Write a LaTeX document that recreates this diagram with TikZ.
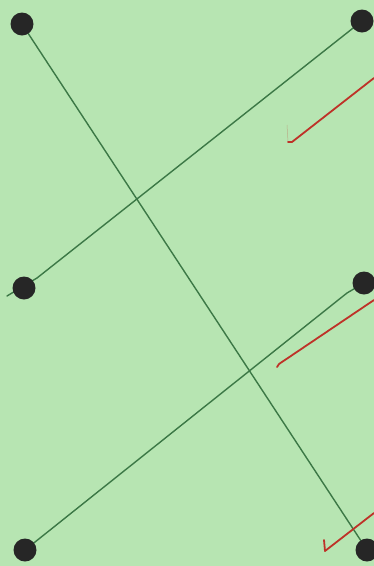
\documentclass[tikz,border=0pt]{standalone}
\definecolor{paper}{RGB}{183,229,178}
\definecolor{pen}{RGB}{60,120,70}
\definecolor{redpen}{RGB}{190,50,40}
\begin{document}
\begin{tikzpicture}[x=1pt,y=-1pt,
  dot/.style={circle,fill=black!85,inner sep=0pt,minimum size=23pt},
  gline/.style={draw=pen,line width=1.4pt,line cap=round,line join=round},
  rline/.style={draw=redpen,line width=1.8pt,line cap=round,line join=round}]
\fill[paper] (0,0) rectangle (374,566);
\useasboundingbox (0,0) rectangle (374,566);
\coordinate (tl) at (22,24);
\coordinate (tr) at (362,21);
\coordinate (ml) at (24,288);
\coordinate (mr) at (364,283);
\coordinate (bl) at (25,550);
\coordinate (br) at (367,550);
\coordinate (t1) at (7,296);
\coordinate (h1) at (37,278);
\coordinate (h2) at (347,293);
\draw[gline] (tl) -- (br);
\draw[gline] (tr) -- (h1) -- (t1);
\draw[gline] (mr) -- (h2) -- (bl);
\node[dot] (ntl) at (tl) {};
\node[dot] (ntr) at (tr) {};
\node[dot] (nml) at (ml) {};
\node[dot] (nmr) at (mr) {};
\node[dot] (nbl) at (bl) {};
\node[dot] (nbr) at (br) {};
\coordinate (r1a) at (287,125);
\coordinate (r1b) at (288,142);
\coordinate (r1c) at (374,78);
\coordinate (r2b) at (277,367);
\coordinate (r2c) at (374,300);
\coordinate (r3a) at (324,540);
\coordinate (r3b) at (325,551);
\coordinate (r3c) at (374,513);
\draw[line width=0.5pt,draw=redpen!30!paper] (r1a) -- (r1b);
\draw[rline] (r1b) -- (292,142) -- (r1c);
\draw[rline] (r2b) -- (279,364) -- (r2c);
\draw[rline] (r3a) -- (r3b) -- (r3c);
\end{tikzpicture}
\end{document}
